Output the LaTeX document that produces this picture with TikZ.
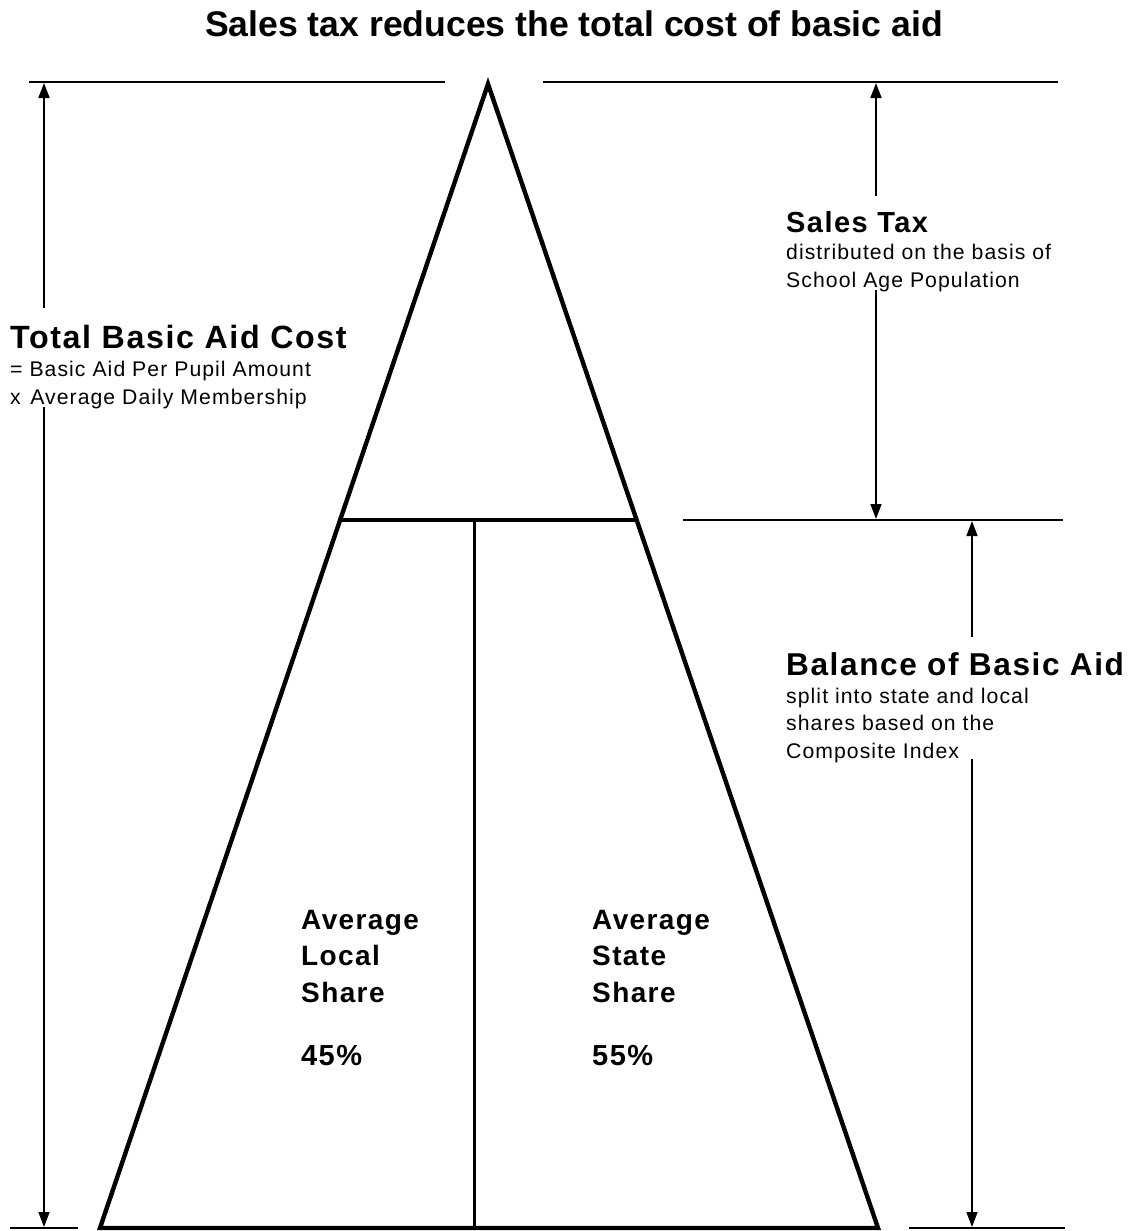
\documentclass[tikz,border=0pt]{standalone}
\usepackage{fontspec}
\setmainfont{Liberation Sans}
\newfontfamily\spc[LetterSpace=5]{Liberation Sans}
\usetikzlibrary{arrows.meta}
\begin{document}
\begin{tikzpicture}[x=1pt,y=-1pt,
  tri/.style={line width=4.4pt, line join=miter},
  dimline/.style={line width=1.6pt},
  arr/.style={line width=1.6pt,-{Triangle[length=15pt,width=11pt]}},
  lbl/.style={anchor=base west, inner sep=0pt, align=left},
  head/.style={font=\fontsize{32.2}{40}\selectfont\spc\bfseries},
  sub/.style={font=\fontsize{21.2}{27.5}\selectfont\spc},
  share/.style={font=\fontsize{28}{36.5}\selectfont\spc\bfseries},
]
\useasboundingbox (0,0) rectangle (1130,1231);
\fill[white] (0,0) rectangle (1130,1231);

% title
\node[anchor=base, inner sep=0pt, font=\fontsize{35.6}{40}\selectfont\bfseries] (title) at (574,37) {Sales tax reduces the total cost of basic aid};

% triangle
\coordinate (apex) at (488,84);
\coordinate (bl) at (100,1228);
\coordinate (br) at (878,1228);
\coordinate (ml) at (339,520);
\coordinate (mr) at (637,520);
\coordinate (mt) at (474,520);
\coordinate (mb) at (474,1228);
\draw[tri] (apex) -- (bl) -- (br) -- cycle;
\draw[tri] (ml) -- (mr);
\draw[line width=3pt] (mt) -- (mb);

% dimension lines
\coordinate (tla) at (29,82);   \coordinate (tlb) at (445,82);
\coordinate (tra) at (543,82);  \coordinate (trb) at (1058,82);
\coordinate (mra) at (683,520); \coordinate (mrb) at (1063,520);
\coordinate (bla) at (10,1228); \coordinate (blb) at (78,1228);
\coordinate (bra) at (909,1228);\coordinate (brb) at (1065,1228);
\draw[dimline] (tla) -- (tlb);
\draw[dimline] (tra) -- (trb);
\draw[dimline] (mra) -- (mrb);
\draw[dimline] (bla) -- (blb);
\draw[dimline] (bra) -- (brb);

% arrows
\coordinate (a1s) at (44,308);  \coordinate (a1e) at (44,83);
\coordinate (a2s) at (44,407);  \coordinate (a2e) at (44,1227);
\coordinate (a3s) at (876,196); \coordinate (a3e) at (876,83);
\coordinate (a4s) at (876,290); \coordinate (a4e) at (876,519);
\coordinate (a5s) at (972,637); \coordinate (a5e) at (972,521);
\coordinate (a6s) at (972,759); \coordinate (a6e) at (972,1227);
\draw[arr] (a1s) -- (a1e);
\draw[arr] (a2s) -- (a2e);
\draw[arr] (a3s) -- (a3e);
\draw[arr] (a4s) -- (a4e);
\draw[arr] (a5s) -- (a5e);
\draw[arr] (a6s) -- (a6e);

% labels (multi-line nodes: base anchor = last line's baseline)
\node[lbl, head] (tbac) at (10,348) {Total Basic Aid Cost};
\node[lbl, sub] (tbacsub) at (10,404) {= Basic Aid Per Pupil Amount\\x\hspace{0.45em}Average Daily Membership};

\node[lbl, font=\fontsize{29}{34}\selectfont\spc\bfseries] (stax) at (786,232) {Sales Tax};
\node[lbl, sub] (staxsub) at (786,287) {distributed on the basis of\\School Age Population};

\node[lbl, font=\fontsize{31.6}{40}\selectfont\spc\bfseries] (bal) at (786,675) {Balance of Basic Aid};
\node[lbl, sub] (balsub) at (786,758) {split into state and local\\shares based on the\\Composite Index};

\node[lbl, share] (local) at (301,1002) {Average\\Local\\Share};
\node[lbl, share, font=\fontsize{29}{36.5}\selectfont\spc\bfseries] (localp) at (301,1065) {45\%};
\node[lbl, share] (state) at (592,1002) {Average\\State\\Share};
\node[lbl, share, font=\fontsize{29}{36.5}\selectfont\spc\bfseries] (statep) at (592,1065) {55\%};
\end{tikzpicture}
\end{document}
